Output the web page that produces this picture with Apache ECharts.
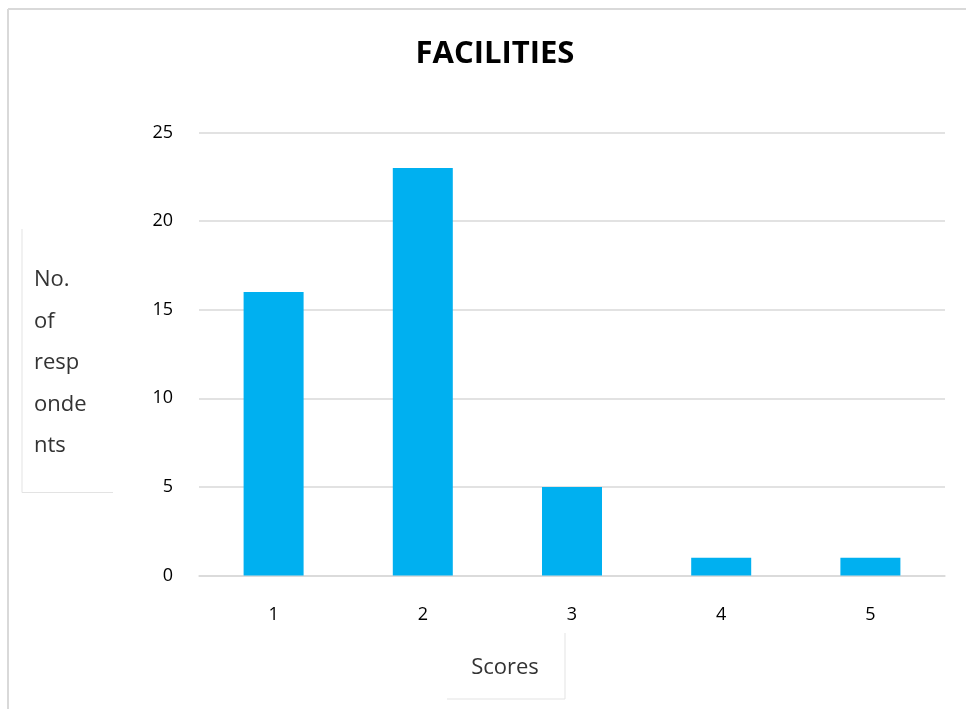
<!DOCTYPE html>
<html>
<head>
<meta charset="utf-8">
<script src="https://cdn.jsdelivr.net/npm/echarts@6/dist/echarts.min.js"></script>
<style>
  html, body { margin: 0; padding: 0; background: #ffffff; }
  #chart { width: 966px; height: 709px; }
</style>
</head>
<body>
<div id="chart"></div>
<script>
// Survey scores for "Facilities" and how many respondents gave each
const scores = ['1', '2', '3', '4', '5'];
const respondents = [16, 23, 5, 1, 1];
const yTicks = { min: 0, max: 25, step: 5 };

const chart = echarts.init(document.getElementById('chart'));
const font = '"Open Sans", "Noto Sans", sans-serif';
const frameColor = '#d9d9d9';

chart.setOption({
  backgroundColor: '#ffffff',
  animation: false,
  title: {
    text: 'FACILITIES',
    left: 490,
    textAlign: 'center',
    top: 34,
    textStyle: { fontFamily: font, fontSize: 31, fontWeight: 'bold', color: '#000000' }
  },
  grid: { left: 199, right: 21, top: 132.5, bottom: 133.5 },
  xAxis: {
    type: 'category',
    data: scores,
    axisLine: { show: true, lineStyle: { color: '#d9d9d9', width: 1.5 } },
    axisTick: { show: false },
    axisLabel: { color: '#000000', fontFamily: font, fontSize: 18, margin: 30 }
  },
  yAxis: {
    type: 'value',
    min: yTicks.min,
    max: yTicks.max,
    interval: yTicks.step,
    axisLine: { show: false },
    axisTick: { show: false },
    axisLabel: { color: '#000000', fontFamily: font, fontSize: 18, margin: 26 },
    splitLine: { lineStyle: { color: '#d9d9d9', width: 1.5 } }
  },
  series: [{
    type: 'bar',
    data: respondents,
    barWidth: 60,
    itemStyle: { color: '#00b0f0' }
  }],
  graphic: [
    // outer chart frame (left and top edges)
    { type: 'line', shape: { x1: 8, y1: 9, x2: 8, y2: 709 }, style: { stroke: frameColor, lineWidth: 2 } },
    { type: 'line', shape: { x1: 8, y1: 9, x2: 966, y2: 9 }, style: { stroke: frameColor, lineWidth: 2 } },
    // y-axis title box
    { type: 'line', shape: { x1: 22, y1: 229, x2: 22, y2: 492.5 }, style: { stroke: '#e3e3e3', lineWidth: 1 } },
    { type: 'line', shape: { x1: 22, y1: 492.5, x2: 113, y2: 492.5 }, style: { stroke: '#e3e3e3', lineWidth: 1 } },
    {
      type: 'text', left: 34, top: 259,
      style: {
        text: 'No.\nof\nresp\nonde\nnts',
        fontFamily: font, fontSize: 22, lineHeight: 41.5, fill: '#333333'
      }
    },
    // x-axis title box
    { type: 'line', shape: { x1: 565, y1: 633, x2: 565, y2: 699 }, style: { stroke: '#e3e3e3', lineWidth: 1 } },
    { type: 'line', shape: { x1: 447, y1: 699, x2: 565, y2: 699 }, style: { stroke: '#e3e3e3', lineWidth: 1 } },
    {
      type: 'text', x: 505, y: 668,
      style: {
        text: 'Scores', textAlign: 'center', textVerticalAlign: 'middle',
        fontFamily: font, fontSize: 22, fill: '#333333'
      }
    }
  ]
});
</script>
</body>
</html>
